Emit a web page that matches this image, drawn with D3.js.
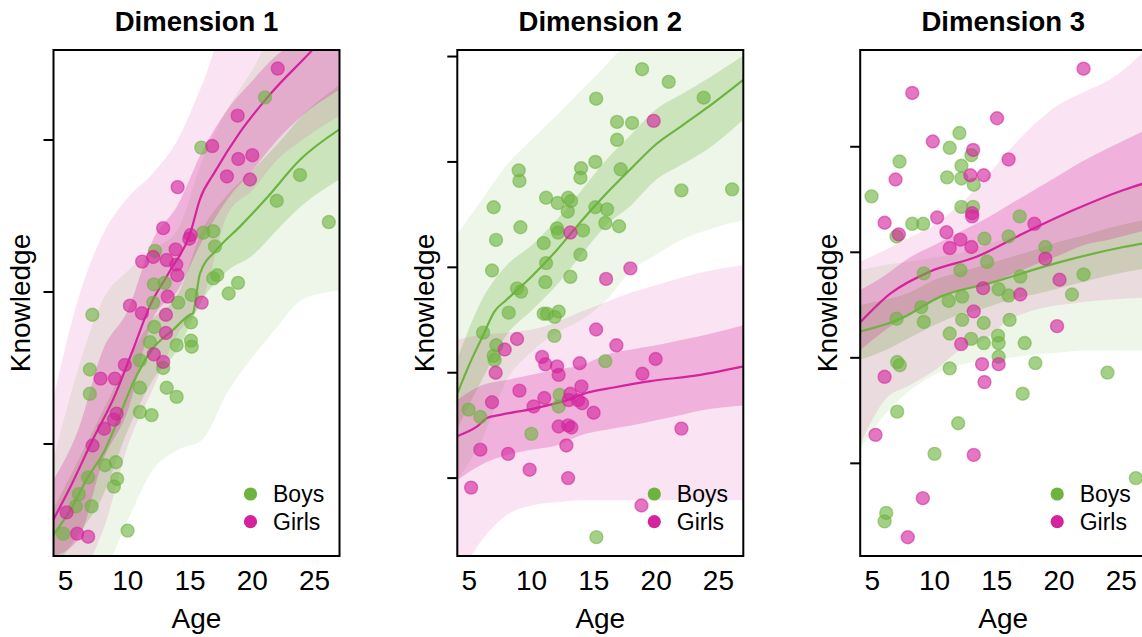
<!DOCTYPE html>
<html>
<head>
<meta charset="utf-8">
<script src="https://cdn.jsdelivr.net/npm/d3@7"></script>
<style>
  body { margin: 0; background: #fff; }
  svg { display: block; }
  text { font-family: "Liberation Sans", Arial, Helvetica, sans-serif; fill: #000; }
</style>
</head>
<body>
<svg id="chart" width="1142" height="637"></svg>
<script>
// ---------------- data ----------------
const dimensions = ["Dimension 1", "Dimension 2", "Dimension 3"];
const groups = ["Boys", "Girls"];
const ageTicks = [5, 10, 15, 20, 25];
const knowledgeTicks = [[-1, 0, 1], [-2, -1, 0, 1, 2], [-2, -1, 0, 1]];
const knowledgeDomains = [[-1.737, 1.592], [-2.739, 2.062], [-2.878, 1.917]];
const ageDomain = [4.03, 27.0];

// ages at which the spread of sampled growth curves is summarised
const bandAges = [4, 6, 8, 10, 12, 14, 16, 18, 20, 22, 24, 27];

// spread of sampled curves: full range (outer) and dense middle (core), [low, high]
const boysOuterDim1 = [[-1.89,-1.11],[-1.89,-0.51],[-1.83,-0.05],[-1.50,0.14],[-1.17,0.28],[-1.04,0.41],[-0.97,0.87],[-0.66,1.20],[-0.43,1.46],[-0.23,1.72],[-0.05,1.72],[0.01,1.72]];
const boysCoreDim1  = [[-1.83,-1.43],[-1.60,-1.11],[-1.34,-0.78],[-0.91,-0.45],[-0.58,-0.18],[-0.38,-0.02],[-0.05,0.41],[0.14,0.64],[0.24,0.80],[0.41,0.97],[0.57,1.16],[0.74,1.36]];
const girlsOuterDim1 = [[-1.89,-0.71],[-1.86,-0.05],[-1.57,0.38],[-1.01,0.62],[-0.64,0.78],[-0.28,1.00],[-0.05,1.37],[0.51,1.75],[0.67,1.75],[0.87,1.75],[1.00,1.75],[1.16,1.75]];
const girlsCoreDim1  = [[-1.74,-1.24],[-1.63,-0.91],[-1.11,-0.38],[-0.78,-0.12],[-0.18,0.34],[0.01,0.57],[0.34,0.93],[0.61,1.20],[0.80,1.39],[1.00,1.56],[1.16,1.66],[1.33,1.72]];

const boysOuterDim2 = [[-2.02,0.31],[-1.64,0.64],[-1.07,0.97],[-0.80,1.21],[-0.62,1.44],[-0.50,1.68],[-0.31,1.92],[-0.03,2.16],[0.12,2.25],[0.26,2.25],[0.35,2.25],[0.45,2.25]];
const boysCoreDim2  = [[-1.54,-0.88],[-1.07,-0.31],[-0.64,0.02],[-0.41,0.21],[-0.17,0.45],[0.12,0.73],[0.40,1.02],[0.59,1.26],[0.83,1.50],[0.97,1.64],[1.11,1.78],[1.40,2.01]];
const girlsOuterDim2 = [[-2.97,-0.69],[-2.59,-0.64],[-2.35,-0.62],[-2.26,-0.59],[-2.23,-0.52],[-2.21,-0.42],[-2.21,-0.33],[-2.21,-0.24],[-2.21,-0.17],[-2.21,-0.10],[-2.21,-0.04],[-2.21,0.02]];
const girlsCoreDim2  = [[-2.02,-1.26],[-1.87,-1.12],[-1.78,-1.07],[-1.73,-1.02],[-1.69,-0.97],[-1.59,-0.93],[-1.54,-0.83],[-1.50,-0.78],[-1.45,-0.74],[-1.40,-0.69],[-1.35,-0.64],[-1.31,-0.55]];

const boysOuterDim3 = [[-1.87,-0.17],[-1.54,-0.12],[-1.31,-0.09],[-1.16,-0.05],[-1.07,-0.01],[-1.02,0.07],[-1.00,0.14],[-0.97,0.23],[-0.95,0.35],[-0.93,0.45],[-0.93,0.54],[-0.93,0.69]];
const boysCoreDim3  = [[-1.02,-0.50],[-0.93,-0.45],[-0.81,-0.38],[-0.69,-0.26],[-0.59,-0.19],[-0.53,-0.12],[-0.45,-0.05],[-0.40,0.02],[-0.34,0.10],[-0.28,0.16],[-0.22,0.23],[-0.15,0.31]];
const girlsOuterDim3 = [[-1.83,-0.09],[-1.40,0.02],[-1.26,0.14],[-1.12,0.26],[-0.93,0.45],[-0.83,0.69],[-0.64,0.97],[-0.55,1.21],[-0.50,1.40],[-0.47,1.52],[-0.45,1.63],[-0.43,1.92]];
const girlsCoreDim3  = [[-0.93,-0.36],[-0.74,-0.22],[-0.59,-0.05],[-0.45,0.07],[-0.36,0.19],[-0.31,0.31],[-0.22,0.45],[-0.12,0.59],[-0.03,0.73],[0.07,0.87],[0.12,0.99],[0.21,1.16]];

// posterior mean growth curves, [age, knowledge]
const boysMeanDim1 = [[4.0,-1.60],[5.34,-1.44],[6.79,-1.22],[8.16,-1.04],[8.96,-0.89],[10.41,-0.60],[11.93,-0.38],[13.62,-0.25],[14.99,-0.15],[15.23,-0.14],[15.55,0.01],[15.79,0.12],[17.16,0.28],[19.0,0.43],[21.17,0.62],[23.83,0.87],[27.0,1.07]];
const girlsMeanDim1 = [[4.0,-1.50],[5.34,-1.29],[7.19,-0.97],[8.80,-0.71],[10.41,-0.38],[11.78,-0.09],[13.39,0.14],[14.99,0.38],[15.79,0.61],[16.99,0.79],[19.0,1.05],[21.42,1.30],[24.8,1.59],[27.0,1.79]];
const boysMeanDim2 = [[4.06,-1.19],[5.08,-0.90],[6.12,-0.64],[7.01,-0.42],[7.97,-0.31],[9.98,-0.09],[11.99,0.16],[14.0,0.44],[16.0,0.70],[18.01,0.94],[20.02,1.17],[22.03,1.34],[24.04,1.51],[27.0,1.78]];
const girlsMeanDim2 = [[4.06,-1.60],[5.62,-1.51],[6.42,-1.43],[7.49,-1.40],[10.16,-1.34],[12.85,-1.26],[14.45,-1.19],[16.59,-1.14],[19.54,-1.08],[23.55,-1.02],[27.0,-0.94]];
const boysMeanDim3 = [[4.06,-0.75],[7.27,-0.63],[10.48,-0.42],[14.49,-0.29],[19.84,-0.10],[25.18,0.05],[27.0,0.09]];
const girlsMeanDim3 = [[4.06,-0.66],[6.47,-0.39],[9.68,-0.18],[13.42,-0.04],[17.16,0.18],[21.17,0.40],[25.18,0.59],[27.0,0.66]];

// observed children, [age, knowledge]
const boysDim1 = [[21.02,1.28],[15.9,0.95],[23.83,0.77],[21.96,0.60],[26.14,0.46],[16.86,0.40],[16.06,0.39],[17.0,0.30],[12.18,0.27],[16.86,0.09],[17.18,0.11],[18.85,0.06],[18.1,-0.01],[12.09,0.05],[12.96,0.06],[14.05,-0.07],[12.04,-0.07],[7.15,-0.15],[15.13,-0.02],[15.07,-0.20],[12.12,-0.23],[15.07,-0.32],[15.13,-0.36],[11.77,-0.33],[13.92,-0.35],[12.84,-0.50],[10.97,-0.45],[6.95,-0.51],[10.97,-0.63],[13.12,-0.63],[13.92,-0.69],[6.95,-0.67],[10.97,-0.79],[11.91,-0.81],[8.16,-1.14],[9.04,-1.12],[9.14,-1.23],[8.88,-1.28],[6.81,-1.22],[6.07,-1.33],[5.82,-1.41],[7.09,-1.41],[4.8,-1.59],[9.98,-1.57]];
const girlsDim1 = [[22.04,1.47],[18.82,1.16],[16.78,0.96],[18.87,0.875],[20.0,0.90],[17.96,0.76],[19.81,0.74],[14.0,0.69],[12.84,0.42],[15.04,0.375],[14.93,0.35],[13.84,0.28],[11.15,0.20],[12.04,0.23],[13.12,0.21],[13.89,0.18],[13.97,0.11],[13.2,-0.03],[10.17,-0.09],[11.13,-0.14],[13.06,-0.15],[15.93,-0.07],[13.06,-0.27],[12.09,-0.41],[12.84,-0.46],[9.76,-0.48],[7.81,-0.57],[8.96,-0.57],[8.88,-0.84],[8.1,-0.90],[7.17,-1.01],[5.08,-1.45],[5.93,-1.59],[6.81,-1.61],[9.1,-0.80]];

const boysDim2 = [[18.87,1.88],[21.01,1.76],[15.18,1.60],[23.82,1.61],[16.86,1.38],[18.07,1.37],[16.86,1.21],[15.12,1.00],[17.15,0.93],[8.96,0.92],[9.02,0.82],[13.97,0.94],[13.92,0.85],[22.03,0.73],[26.1,0.74],[6.95,0.57],[11.16,0.66],[12.09,0.61],[12.93,0.66],[13.17,0.63],[12.9,0.53],[15.12,0.57],[16.06,0.55],[9.1,0.38],[12.04,0.37],[12.12,0.33],[14.13,0.35],[15.92,0.42],[17.02,0.39],[7.14,0.26],[10.97,0.23],[13.92,0.12],[11.16,0.04],[6.82,-0.03],[13.11,-0.09],[11.1,-0.14],[8.83,-0.20],[9.15,-0.23],[8.16,-0.43],[10.97,-0.44],[11.24,-0.44],[12.17,-0.42],[11.85,-0.47],[6.1,-0.62],[11.83,-0.65],[7.17,-0.74],[6.95,-0.84],[7.03,-0.88],[15.92,-0.89],[4.94,-1.35],[5.88,-1.42],[12.25,-1.21],[12.17,-1.32],[9.98,-1.58],[15.2,-2.56]];
const girlsDim2 = [[19.8,1.39],[13.11,0.33],[15.98,-0.11],[17.93,-0.01],[8.83,-0.68],[7.84,-0.78],[7.11,-1.00],[10.84,-0.85],[11.1,-0.92],[12.04,-0.94],[12.17,-1.02],[13.86,-0.91],[15.18,-0.59],[16.81,-0.74],[19.96,-0.87],[18.9,-1.01],[14.0,-1.13],[9.02,-1.17],[6.82,-1.28],[11.02,-1.24],[10.16,-1.32],[13.11,-1.20],[12.98,-1.26],[13.73,-1.26],[14.05,-1.29],[14.98,-1.38],[12.17,-1.51],[12.93,-1.50],[13.19,-1.52],[22.03,-1.53],[5.88,-1.73],[8.11,-1.77],[12.79,-1.69],[9.84,-1.92],[12.93,-2.00],[5.14,-2.09],[18.82,-2.26]];

const boysDim3 = [[4.94,0.53],[7.19,0.86],[11.22,0.99],[12.0,1.13],[12.96,0.92],[12.16,0.82],[11.01,0.71],[12.16,0.70],[13.15,0.64],[12.16,0.43],[13.1,0.43],[8.21,0.27],[9.09,0.27],[6.95,0.15],[16.84,0.34],[14.01,0.13],[15.95,0.15],[18.9,0.05],[14.22,-0.09],[12.08,-0.17],[9.14,-0.20],[16.89,-0.23],[21.97,-0.21],[21.04,-0.40],[15.15,-0.35],[15.95,-0.41],[12.22,-0.42],[11.14,-0.46],[8.93,-0.52],[6.95,-0.63],[9.14,-0.66],[12.22,-0.64],[13.95,-0.67],[16.03,-0.64],[11.22,-0.77],[12.94,-0.82],[13.95,-0.86],[15.1,-0.79],[15.15,-0.86],[17.24,-0.86],[15.15,-0.99],[7.0,-1.04],[7.21,-1.07],[11.22,-1.10],[18.1,-1.05],[23.89,-1.14],[17.08,-1.34],[7.0,-1.51],[11.9,-1.62],[10.0,-1.91],[26.17,-2.14],[6.12,-2.47],[5.99,-2.55]];
const girlsDim3 = [[21.97,1.74],[8.21,1.51],[15.02,1.27],[9.86,1.05],[13.1,0.97],[15.95,0.88],[6.87,0.69],[12.88,0.73],[13.95,0.73],[5.99,0.28],[7.13,0.17],[10.21,0.33],[13.02,0.37],[13.02,0.34],[10.96,0.19],[12.08,0.12],[11.22,0.04],[12.96,0.05],[18.02,0.27],[18.9,-0.06],[20.04,-0.26],[16.89,-0.40],[13.9,-0.34],[13.15,-0.56],[19.84,-0.70],[12.14,-0.87],[13.82,-1.06],[15.15,-1.06],[14.01,-1.23],[5.99,-1.18],[5.26,-1.73],[13.15,-1.92],[9.06,-2.33],[7.85,-2.70]];

const panels = [
  { boys: boysDim1, girls: girlsDim1, boysMean: boysMeanDim1, girlsMean: girlsMeanDim1,
    boysOuter: boysOuterDim1, boysCore: boysCoreDim1, girlsOuter: girlsOuterDim1, girlsCore: girlsCoreDim1 },
  { boys: boysDim2, girls: girlsDim2, boysMean: boysMeanDim2, girlsMean: girlsMeanDim2,
    boysOuter: boysOuterDim2, boysCore: boysCoreDim2, girlsOuter: girlsOuterDim2, girlsCore: girlsCoreDim2 },
  { boys: boysDim3, girls: girlsDim3, boysMean: boysMeanDim3, girlsMean: girlsMeanDim3,
    boysOuter: boysOuterDim3, boysCore: boysCoreDim3, girlsOuter: girlsOuterDim3, girlsCore: girlsCoreDim3 }
];

// ---------------- layout & style ----------------
const colors = { Boys: "#6db33f", Girls: "#d4239c" };
const panelLeft = [53.5, 457.3, 860.2];
const panelWidth = 286;
const plotTop = 50, plotBottom = 556;

const svg = d3.select("#chart");
const defs = svg.append("defs");

panels.forEach((p, i) => {
  const left = panelLeft[i], right = left + panelWidth;
  const x = d3.scaleLinear().domain(ageDomain).range([left, right]);
  const y = d3.scaleLinear().domain(knowledgeDomains[i]).range([plotBottom, plotTop]);

  defs.append("clipPath").attr("id", "clip" + i)
    .append("rect").attr("x", left).attr("y", plotTop)
    .attr("width", panelWidth).attr("height", plotBottom - plotTop);

  const g = svg.append("g");
  const plot = g.append("g").attr("clip-path", `url(#clip${i})`);

  const area = d3.area()
    .x((d, j) => x(bandAges[j]))
    .y0(d => y(d[0]))
    .y1(d => y(d[1]))
    .curve(d3.curveMonotoneX);

  const line = d3.line().x(d => x(d[0])).y(d => y(d[1])).curve(d3.curveMonotoneX);

  // spread of sampled trajectories
  [["Boys", p.boysOuter, p.boysCore], ["Girls", p.girlsOuter, p.girlsCore]].forEach(([grp, outer, core]) => {
    plot.append("path").datum(outer).attr("d", area)
      .attr("fill", colors[grp]).attr("fill-opacity", 0.12);
    plot.append("path").datum(core).attr("d", area)
      .attr("fill", colors[grp]).attr("fill-opacity", 0.26);
  });

  // mean curves
  [["Boys", p.boysMean], ["Girls", p.girlsMean]].forEach(([grp, m]) => {
    plot.append("path").datum(m).attr("d", line)
      .attr("fill", "none").attr("stroke", colors[grp]).attr("stroke-width", 2.2);
  });

  // observed children
  [["Boys", p.boys], ["Girls", p.girls]].forEach(([grp, pts]) => {
    plot.append("g").selectAll("circle").data(pts).join("circle")
      .attr("cx", d => x(d[0])).attr("cy", d => y(d[1])).attr("r", 6.5)
      .attr("fill", colors[grp]).attr("fill-opacity", 0.62)
      .attr("stroke", colors[grp]).attr("stroke-opacity", 0.55).attr("stroke-width", 1.4);
  });

  // frame
  g.append("rect").attr("x", left).attr("y", plotTop)
    .attr("width", panelWidth).attr("height", plotBottom - plotTop)
    .attr("fill", "none").attr("stroke", "#000").attr("stroke-width", 2);

  // y ticks (unlabelled)
  g.selectAll(".ytick").data(knowledgeTicks[i]).join("line")
    .attr("x1", left - 10).attr("x2", left)
    .attr("y1", d => y(d)).attr("y2", d => y(d))
    .attr("stroke", "#000").attr("stroke-width", 2);

  // x tick labels
  g.selectAll(".xlab").data(ageTicks).join("text")
    .attr("x", d => x(d)).attr("y", 590)
    .attr("text-anchor", "middle").attr("font-size", 28)
    .text(d => d);

  // titles and axis labels
  const cx = (left + right) / 2;
  g.append("text").attr("x", cx).attr("y", 31).attr("text-anchor", "middle")
    .attr("font-size", 27.5).attr("font-weight", "bold").text(dimensions[i]);
  g.append("text").attr("x", cx).attr("y", 628).attr("text-anchor", "middle")
    .attr("font-size", 28).text("Age");
  g.append("text")
    .attr("transform", `translate(${left - 23.5},${(plotTop + plotBottom) / 2}) rotate(-90)`)
    .attr("text-anchor", "middle").attr("font-size", 28).text("Knowledge");

  // legend
  const lx = right - 89;
  groups.forEach((grp, k) => {
    const ly = 494 + k * 27.7;
    g.append("circle").attr("cx", lx).attr("cy", ly).attr("r", 6.6).attr("fill", colors[grp]);
    g.append("text").attr("x", lx + 22.5).attr("y", ly + 8.2)
      .attr("font-size", 23).text(grp);
  });
});
</script>
</body>
</html>
